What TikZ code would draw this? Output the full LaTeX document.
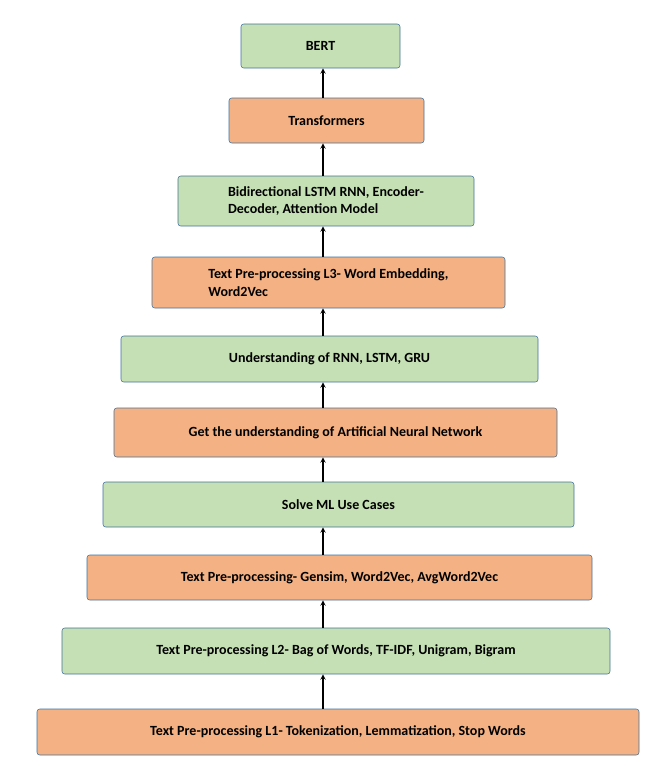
\documentclass[tikz,border=0pt]{standalone}
\usepackage{fontspec}
\setmainfont{Carlito}
\definecolor{stagegreen}{RGB}{197,224,180}
\definecolor{stageorange}{RGB}{244,177,131}
\definecolor{stageborder}{RGB}{65,113,156}

\begin{document}
\begin{tikzpicture}[
  x=0.75pt, y=-0.75pt,
  stage/.style={rectangle, rounded corners=2pt, draw=stageborder, inner sep=2pt, font=\fontsize{10.5}{13}\selectfont\bfseries},
  greenstage/.style={stage, fill=stagegreen},
  orangestage/.style={stage, fill=stageorange},
  arrow/.style={->, >=stealth, thick}
]
\useasboundingbox (0,0) rectangle (670,776);

% Stages, bottom to top
\node[orangestage, minimum width=602*0.75pt, minimum height=46*0.75pt] (s1) at (338,732) {Text Pre-processing L1- Tokenization, Lemmatization, Stop Words};
\node[greenstage, minimum width=548*0.75pt, minimum height=46*0.75pt] (s2) at (336,651) {Text Pre-processing L2- Bag of Words, TF-IDF, Unigram, Bigram};
\node[orangestage, minimum width=505*0.75pt, minimum height=45*0.75pt] (s3) at (339.5,577.5) {Text Pre-processing- Gensim, Word2Vec, AvgWord2Vec};
\node[greenstage, minimum width=471*0.75pt, minimum height=45*0.75pt] (s4) at (338.5,504.5) {Solve ML Use Cases};
\node[orangestage, minimum width=443*0.75pt, minimum height=49*0.75pt] (s5) at (335.5,432.5) {Get the understanding of Artificial Neural Network};
\node[greenstage, minimum width=417*0.75pt, minimum height=46*0.75pt] (s6) at (329.5,359) {Understanding of RNN, LSTM, GRU};
\node[orangestage, minimum width=353*0.75pt, minimum height=51*0.75pt, align=left] (s7) at (328.5,282.5) {Text Pre-processing L3- Word Embedding,\\Word2Vec};
\node[greenstage, minimum width=296*0.75pt, minimum height=50*0.75pt, align=left] (s8) at (326,201) {Bidirectional LSTM RNN, Encoder-\\Decoder, Attention Model};
\node[orangestage, minimum width=195*0.75pt, minimum height=45*0.75pt] (s9) at (326.5,120.5) {Transformers};
\node[greenstage, minimum width=159*0.75pt, minimum height=44*0.75pt] (s10) at (320.5,46) {BERT};
\coordinate (axis) at (323,0);

% Arrows
\foreach \a/\b in {s1/s2, s2/s3, s3/s4, s4/s5, s5/s6, s6/s7, s7/s8, s8/s9, s9/s10}
  \draw[arrow] (\a.north -| axis) -- (\b.south -| axis);

\end{tikzpicture}
\end{document}
